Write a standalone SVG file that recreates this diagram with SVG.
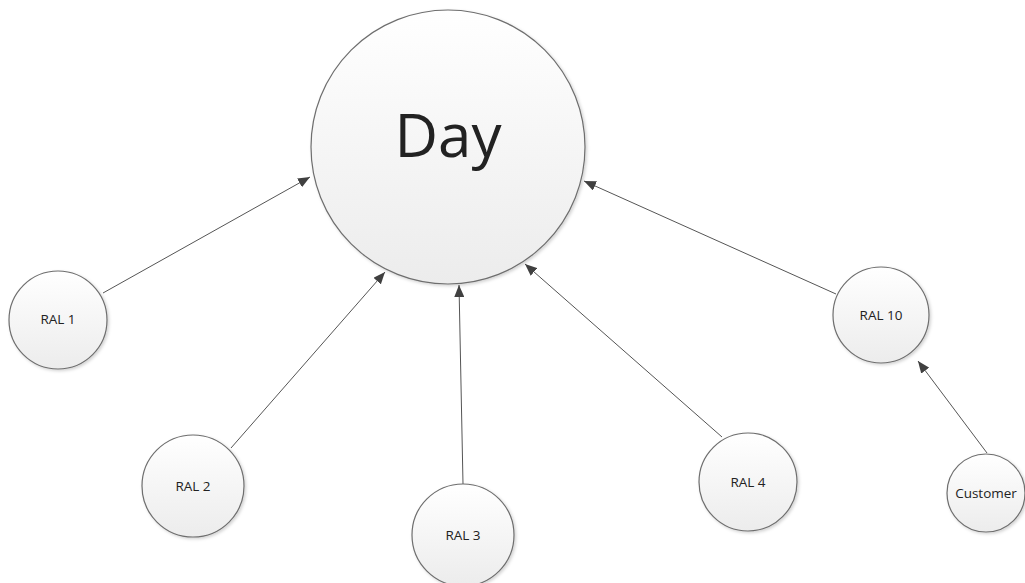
<svg xmlns="http://www.w3.org/2000/svg" width="1025" height="583" viewBox="0 0 1025 583">
<defs>
<linearGradient id="g" x1="0" y1="0" x2="0" y2="1">
<stop offset="0" stop-color="#ffffff"/>
<stop offset="1" stop-color="#ececec"/>
</linearGradient>
<filter id="sh" x="-20%" y="-20%" width="140%" height="140%">
<feDropShadow dx="1.5" dy="1.5" stdDeviation="1.5" flood-color="#000" flood-opacity="0.18"/>
</filter>
<marker id="arr" viewBox="0 0 12 10" refX="12" refY="5" markerWidth="12" markerHeight="10" markerUnits="userSpaceOnUse" orient="auto">
<path d="M0,0 L12,5 L0,10 Z" fill="#404040"/>
</marker>
<style>
.n{fill:url(#g);stroke:#6e6e6e;stroke-width:1.2;filter:url(#sh)}
.t{font-family:"Open Sans","Liberation Sans",sans-serif;fill:#222;text-anchor:middle;dominant-baseline:central}
.s{font-size:13.5px}
.c{stroke:#555;stroke-width:1;fill:none;marker-end:url(#arr)}
</style>
</defs>
<rect width="1025" height="583" fill="#fff"/>
<g id="connectors">
<line class="c" x1="103" y1="293" x2="310" y2="177"/>
<line class="c" x1="231" y1="448" x2="385" y2="272"/>
<line class="c" x1="463" y1="484" x2="459" y2="285"/>
<line class="c" x1="722" y1="437" x2="525" y2="264"/>
<line class="c" x1="836" y1="294" x2="584" y2="181"/>
<line class="c" x1="987" y1="453" x2="918" y2="361"/>
</g>
<g id="day"><circle class="n" cx="448" cy="147" r="137"/><text class="t" x="448" y="134" font-size="60">Day</text></g>
<g id="ral1"><circle class="n" cx="58" cy="320" r="49"/><text class="t s" x="58" y="319">RAL 1</text></g>
<g id="ral2"><circle class="n" cx="193" cy="486" r="51"/><text class="t s" x="193" y="486">RAL 2</text></g>
<g id="ral3"><circle class="n" cx="463" cy="535" r="51"/><text class="t s" x="463" y="535">RAL 3</text></g>
<g id="ral4"><circle class="n" cx="748" cy="482" r="49"/><text class="t s" x="748" y="482">RAL 4</text></g>
<g id="ral10"><circle class="n" cx="881" cy="315" r="48"/><text class="t s" x="881" y="315">RAL 10</text></g>
<g id="customer"><circle class="n" cx="986" cy="493" r="39"/><text class="t s" x="986" y="493">Customer</text></g>
</svg>
